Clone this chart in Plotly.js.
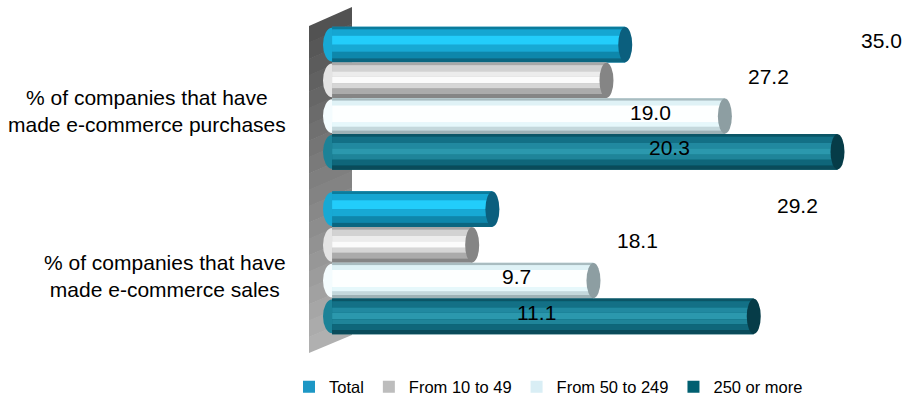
<!DOCTYPE html>
<html>
<head>
<meta charset="utf-8">
<script src="https://cdn.plot.ly/plotly-3.0.1.min.js"></script>
<style>
  html, body { margin: 0; padding: 0; background: #ffffff; }
  #chart { width: 915px; height: 396px; }
</style>
</head>
<body>
<div id="chart"></div>
<script>
// ---------------- DATA ----------------
const categories = [
  '% of companies that have made e-commerce purchases',
  '% of companies that have made e-commerce sales'
];
const tickLabels = [
  '% of companies that have<br>made e-commerce purchases',
  '% of companies that have<br>made e-commerce sales'
];
const seriesNames = ['Total', 'From 10 to 49', 'From 50 to 249', '250 or more'];
const totalValues = [20.3, 11.1];
const from10to49Values = [19.0, 9.7];
const from50to249Values = [27.2, 18.1];
const from250Values = [35.0, 29.2];
const seriesValues = [totalValues, from10to49Values, from50to249Values, from250Values];

// ---------------- STYLE ----------------
const FONT = 'Liberation Sans, Arial, sans-serif';
const legendColors = ['#1d97c5', '#bdbdbd', '#d9eef5', '#005f70'];
const capColors = ['#0b5f7e', '#858585', '#8d9ea2', '#063c48'];
const leftCapColors = ['#17a9d4', '#e4e4e4', '#f4fcfe', '#1c8297'];
// cylinder shading bands: [fromTop, toTop, colour]
const bands = [
  [[0, .08, '#0b7c9c'], [.08, .25, '#15a6d2'], [.25, .5, '#22cdfb'], [.5, .7, '#17a9d4'], [.7, .88, '#0e87ab'], [.88, 1, '#0b6680']],
  [[0, .08, '#a8a8a8'], [.08, .25, '#d2d2d2'], [.25, .4, '#ececec'], [.4, .58, '#fbfbfb'], [.58, .72, '#d6d6d6'], [.72, .88, '#ababab'], [.88, 1, '#858585']],
  [[0, .07, '#a9bcc0'], [.07, .2, '#dff2f6'], [.2, .68, '#fdffff'], [.68, .8, '#e6f8fb'], [.8, .9, '#c4d8dc'], [.9, 1, '#9eb2b6']],
  [[0, .08, '#0b5566'], [.08, .25, '#137086'], [.25, .4, '#2189a0'], [.4, .58, '#2b98ad'], [.58, .72, '#1f8499'], [.72, .88, '#0f667a'], [.88, 1, '#0a4b5a']]
];

// ---------------- GEOMETRY ----------------
const M = { l: 322, r: 0, t: 16, b: 51 };
const W = 915, H = 396;
const plotW = W - M.l - M.r, plotH = H - M.t - M.b;
const pxPerUnit = 14.44;
const xMin = -0.7;
const xMax = xMin + plotW / pxPerUnit;
const barW = 0.2173;
const groupStart = -2 * barW;
const offsetOf = i => groupStart + i * barW;
const capHalf = 0.485;

const px2paperX = px => (px - M.l) / plotW;
const px2paperY = py => (H - M.b - py) / plotH;

// ---------------- TRACES ----------------
const traces = [];
seriesValues.forEach((vals, i) => {
  traces.push({
    type: 'bar', orientation: 'h', name: seriesNames[i],
    y: categories, x: vals,
    offset: offsetOf(i), width: barW,
    marker: { color: legendColors[i], line: { width: 0 } },
    hoverinfo: 'skip', showlegend: true
  });
  bands[i].forEach(b => {
    traces.push({
      type: 'bar', orientation: 'h', name: seriesNames[i],
      y: categories, x: vals,
      offset: offsetOf(i) + b[0] * barW, width: (b[1] - b[0]) * barW,
      marker: { color: b[2], line: { width: 0 } },
      hoverinfo: 'skip', showlegend: false
    });
  });
});

// ---------------- SHAPES ----------------
const shapes = [];
// back wall with vertical grey gradient
const wallL = 309, wallR = 352;
const nWall = 20;
for (let k = 0; k < nWall; k++) {
  const t0 = k / nWall, t1 = Math.min((k + 1) / nWall + 0.002, 1);
  const yl0 = 26 + t0 * 327, yl1 = 26 + t1 * 327;
  const yr0 = 7 + t0 * 328, yr1 = 7 + t1 * 328;
  const g = Math.round(0x52 + (0xb0 - 0x52) * (k / (nWall - 1)));
  const col = 'rgb(' + g + ',' + g + ',' + g + ')';
  shapes.push({
    type: 'path', xref: 'paper', yref: 'paper', layer: 'below',
    path: 'M' + px2paperX(wallL) + ',' + px2paperY(yl0) +
          'L' + px2paperX(wallR) + ',' + px2paperY(yr0) +
          'L' + px2paperX(wallR) + ',' + px2paperY(yr1) +
          'L' + px2paperX(wallL) + ',' + px2paperY(yl1) + 'Z',
    fillcolor: col, line: { width: 0 }
  });
}
// cylinder caps
seriesValues.forEach((vals, i) => {
  vals.forEach((v, c) => {
    const y0 = c + offsetOf(i), y1 = y0 + barW;
    shapes.push({
      type: 'circle', xref: 'x', yref: 'y', layer: 'below',
      x0: -capHalf * 1.3, x1: capHalf * 1.3, y0: y0 + 0.006, y1: y1 - 0.006,
      fillcolor: leftCapColors[i], line: { width: 0 }
    });
    shapes.push({
      type: 'circle', xref: 'x', yref: 'y', layer: 'above',
      x0: v - capHalf, x1: v + capHalf, y0: y0 + 0.002, y1: y1 - 0.002,
      fillcolor: capColors[i], line: { width: 0 }
    });
  });
});

// ---------------- ANNOTATIONS ----------------
const annotations = [];
// data labels (drawn, as in the original, in the mirrored row of the group)
seriesValues.forEach((vals, i) => {
  vals.forEach((v, c) => {
    const row = 3 - i;
    annotations.push({
      x: v, y: c + offsetOf(row) + barW / 2, xref: 'x', yref: 'y',
      text: v.toFixed(1), showarrow: false,
      xanchor: 'center', yanchor: 'middle', xshift: 44, yshift: 4,
      font: { family: FONT, size: 21, color: '#000000' }
    });
  });
});
// category labels
tickLabels.forEach((t, c) => {
  annotations.push({
    x: px2paperX(288), y: c, xref: 'paper', yref: 'y',
    text: t, showarrow: false, align: 'center',
    xanchor: 'right', yanchor: 'middle', yshift: -13,
    font: { family: FONT, size: 21, color: '#000000' }
  });
});

const layout = {
  width: W, height: H,
  margin: { l: M.l, r: M.r, t: M.t, b: M.b, autoexpand: false },
  paper_bgcolor: '#ffffff', plot_bgcolor: 'rgba(0,0,0,0)',
  barmode: 'overlay',
  font: { family: FONT, color: '#000000' },
  xaxis: { range: [xMin, xMax], visible: false, fixedrange: true },
  yaxis: { range: [1.5, -0.5], type: 'category', showticklabels: false, showgrid: false,
           zeroline: false, showline: false, ticks: '', fixedrange: true },
  showlegend: true,
  legend: {
    orientation: 'h', x: px2paperX(289), xanchor: 'left', y: px2paperY(387), yanchor: 'middle',
    font: { family: FONT, size: 16.5, color: '#000000' },
    bgcolor: 'rgba(0,0,0,0)', itemwidth: 30, traceorder: 'normal'
  },
  shapes: shapes,
  annotations: annotations
};

Plotly.newPlot('chart', traces, layout, { displayModeBar: false, staticPlot: true });
</script>
</body>
</html>
